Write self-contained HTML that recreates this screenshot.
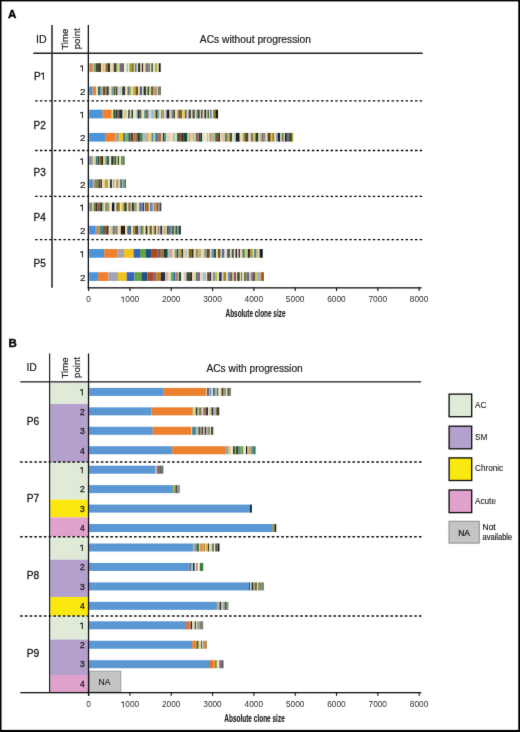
<!DOCTYPE html>
<html><head><meta charset="utf-8"><title>Clone size</title>
<style>html,body{margin:0;padding:0;background:#fff;}svg{display:block;}</style></head>
<body><svg width="520" height="732" viewBox="0 0 520 732">
<defs><filter id="soft" x="0" y="0" width="520" height="732" filterUnits="userSpaceOnUse" color-interpolation-filters="sRGB"><feConvolveMatrix order="3" kernelMatrix="0.0064 0.0672 0.0064 0.0672 0.7056 0.0672 0.0064 0.0672 0.0064" edgeMode="duplicate"/></filter></defs><g filter="url(#soft)">
<rect x="0" y="0" width="520" height="732" fill="#fff"/>
<text x="7.9" y="18.2" font-family="Liberation Sans" font-weight="700" font-size="11.5" stroke="#000" stroke-width="0.35">A</text>
<text x="41.3" y="42.5" text-anchor="middle" font-family="Liberation Sans" font-size="10.6" fill="#222" stroke="#222" stroke-width="0.2">ID</text>
<text transform="translate(68.2,39.2) rotate(-90)" text-anchor="middle" font-family="Liberation Sans" font-size="9.7" fill="#222" stroke="#222" stroke-width="0.2">Time</text>
<text transform="translate(80.0,38.8) rotate(-90)" text-anchor="middle" font-family="Liberation Sans" font-size="9.7" fill="#222" stroke="#222" stroke-width="0.2">point</text>
<text x="255.4" y="42.5" text-anchor="middle" font-family="Liberation Sans" font-size="10.25" fill="#222" stroke="#222" stroke-width="0.2">ACs without progression</text>
<rect x="33.3" y="52.5" width="389.4" height="1.5" fill="#1e1e1e"/>
<rect x="51.2" y="25" width="1.6" height="262.8" fill="#333"/>
<line x1="35.2" y1="100.9" x2="422.2" y2="100.9" stroke="#000" stroke-width="1.4" stroke-dasharray="2.4 2.289"/>
<line x1="35.2" y1="150.5" x2="422.2" y2="150.5" stroke="#000" stroke-width="1.4" stroke-dasharray="2.4 2.289"/>
<line x1="35.2" y1="196.35" x2="422.2" y2="196.35" stroke="#000" stroke-width="1.4" stroke-dasharray="2.4 2.289"/>
<line x1="35.2" y1="239.6" x2="422.2" y2="239.6" stroke="#000" stroke-width="1.4" stroke-dasharray="2.4 2.289"/>
<rect x="89.20" y="63.25" width="3.75" height="8.7" fill="#c88a60"/>
<rect x="92.90" y="63.25" width="1.08" height="8.7" fill="#e0c090"/>
<rect x="93.93" y="63.25" width="2.10" height="8.7" fill="#70a870"/>
<rect x="95.98" y="63.25" width="2.10" height="8.7" fill="#404a40"/>
<rect x="98.04" y="63.25" width="3.13" height="8.7" fill="#4a4020"/>
<rect x="101.12" y="63.25" width="1.49" height="8.7" fill="#e8e0b8"/>
<rect x="102.56" y="63.25" width="2.31" height="8.7" fill="#e0b878"/>
<rect x="104.82" y="63.25" width="0.77" height="8.7" fill="#f0ecd0"/>
<rect x="105.53" y="63.25" width="2.31" height="8.7" fill="#8a6a3a"/>
<rect x="107.79" y="63.25" width="2.21" height="8.7" fill="#283020"/>
<rect x="109.95" y="63.25" width="3.85" height="8.7" fill="#e0dcb0"/>
<rect x="113.75" y="63.25" width="2.21" height="8.7" fill="#503020"/>
<rect x="115.91" y="63.25" width="1.08" height="8.7" fill="#60a060"/>
<rect x="116.94" y="63.25" width="2.72" height="8.7" fill="#d8cc90"/>
<rect x="119.61" y="63.25" width="4.57" height="8.7" fill="#706878"/>
<rect x="124.13" y="63.25" width="2.52" height="8.7" fill="#f0f0d0"/>
<rect x="126.60" y="63.25" width="1.49" height="8.7" fill="#a0b8d8"/>
<rect x="128.03" y="63.25" width="1.28" height="8.7" fill="#f0f0d0"/>
<rect x="129.27" y="63.25" width="3.03" height="8.7" fill="#a8a030"/>
<rect x="132.25" y="63.25" width="1.49" height="8.7" fill="#5a5010"/>
<rect x="133.68" y="63.25" width="1.59" height="8.7" fill="#d0d080"/>
<rect x="135.22" y="63.25" width="1.49" height="8.7" fill="#4858a8"/>
<rect x="136.66" y="63.25" width="1.49" height="8.7" fill="#e6dfbc"/>
<rect x="138.10" y="63.25" width="2.31" height="8.7" fill="#203020"/>
<rect x="140.36" y="63.25" width="1.49" height="8.7" fill="#e6dfbc"/>
<rect x="141.80" y="63.25" width="1.59" height="8.7" fill="#402020"/>
<rect x="143.34" y="63.25" width="2.21" height="8.7" fill="#e6dfbc"/>
<rect x="145.50" y="63.25" width="1.49" height="8.7" fill="#707860"/>
<rect x="146.94" y="63.25" width="1.59" height="8.7" fill="#608080"/>
<rect x="148.48" y="63.25" width="1.49" height="8.7" fill="#806878"/>
<rect x="149.92" y="63.25" width="1.49" height="8.7" fill="#e6dfbc"/>
<rect x="151.35" y="63.25" width="1.59" height="8.7" fill="#305040"/>
<rect x="152.89" y="63.25" width="2.21" height="8.7" fill="#e6dfbc"/>
<rect x="155.05" y="63.25" width="2.31" height="8.7" fill="#a0b050"/>
<rect x="157.31" y="63.25" width="1.49" height="8.7" fill="#e6dfbc"/>
<rect x="158.75" y="63.25" width="1.90" height="8.7" fill="#201810"/>
<path d="M82.90 65.30 L82.90 71.60 L81.95 71.60 L81.95 66.85 C81.35 66.80 80.45 66.95 80.05 67.00 L80.05 66.10 C80.95 66.00 81.65 65.80 82.00 65.30 Z" fill="#1a1a1a"/>
<rect x="89.20" y="86.47" width="3.45" height="8.7" fill="#4b94d8"/>
<rect x="92.60" y="86.47" width="3.55" height="8.7" fill="#f07f2e"/>
<rect x="96.10" y="86.47" width="1.95" height="8.7" fill="#e8e0c0"/>
<rect x="98.00" y="86.47" width="2.35" height="8.7" fill="#306860"/>
<rect x="100.30" y="86.47" width="1.55" height="8.7" fill="#50a0a0"/>
<rect x="101.80" y="86.47" width="0.85" height="8.7" fill="#e6dfbc"/>
<rect x="102.60" y="86.47" width="2.75" height="8.7" fill="#804830"/>
<rect x="105.30" y="86.47" width="1.25" height="8.7" fill="#a07050"/>
<rect x="106.50" y="86.47" width="2.35" height="8.7" fill="#204830"/>
<rect x="108.80" y="86.47" width="1.55" height="8.7" fill="#e6dfbc"/>
<rect x="110.30" y="86.47" width="1.55" height="8.7" fill="#e0c0a0"/>
<rect x="111.80" y="86.47" width="2.05" height="8.7" fill="#70a098"/>
<rect x="113.80" y="86.47" width="1.15" height="8.7" fill="#505030"/>
<rect x="114.90" y="86.47" width="0.85" height="8.7" fill="#c0a060"/>
<rect x="115.70" y="86.47" width="1.95" height="8.7" fill="#304830"/>
<rect x="117.60" y="86.47" width="0.85" height="8.7" fill="#e6dfbc"/>
<rect x="118.40" y="86.47" width="1.15" height="8.7" fill="#d0b8d8"/>
<rect x="119.50" y="86.47" width="2.05" height="8.7" fill="#b0d0b0"/>
<rect x="121.50" y="86.47" width="0.75" height="8.7" fill="#e6dfbc"/>
<rect x="122.20" y="86.47" width="2.75" height="8.7" fill="#303838"/>
<rect x="124.90" y="86.47" width="0.35" height="8.7" fill="#203030"/>
<rect x="125.20" y="86.47" width="2.35" height="8.7" fill="#f0e0a0"/>
<rect x="127.50" y="86.47" width="1.95" height="8.7" fill="#507080"/>
<rect x="129.40" y="86.47" width="1.95" height="8.7" fill="#a0a040"/>
<rect x="131.30" y="86.47" width="1.55" height="8.7" fill="#e6dfbc"/>
<rect x="132.80" y="86.47" width="2.75" height="8.7" fill="#c0b040"/>
<rect x="135.50" y="86.47" width="2.75" height="8.7" fill="#805010"/>
<rect x="138.20" y="86.47" width="1.65" height="8.7" fill="#e6dfbc"/>
<rect x="139.80" y="86.47" width="2.35" height="8.7" fill="#506090"/>
<rect x="142.10" y="86.47" width="1.55" height="8.7" fill="#e6dfbc"/>
<rect x="143.60" y="86.47" width="2.35" height="8.7" fill="#203020"/>
<rect x="145.90" y="86.47" width="1.65" height="8.7" fill="#d0d0b0"/>
<rect x="147.50" y="86.47" width="1.55" height="8.7" fill="#304830"/>
<rect x="149.00" y="86.47" width="2.35" height="8.7" fill="#d0d090"/>
<rect x="151.30" y="86.47" width="1.55" height="8.7" fill="#403010"/>
<rect x="152.80" y="86.47" width="2.75" height="8.7" fill="#c0a070"/>
<rect x="155.50" y="86.47" width="1.25" height="8.7" fill="#806040"/>
<rect x="156.70" y="86.47" width="1.15" height="8.7" fill="#e6dfbc"/>
<rect x="157.80" y="86.47" width="3.25" height="8.7" fill="#808070"/>
<text x="85.5" y="95.02" text-anchor="end" font-family="Liberation Sans" font-size="9.9" fill="#1a1a1a" stroke="#1a1a1a" stroke-width="0.2">2</text>
<rect x="89.20" y="109.69" width="13.45" height="8.7" fill="#4b94d8"/>
<rect x="102.60" y="109.69" width="8.55" height="8.7" fill="#f07f2e"/>
<rect x="111.10" y="109.69" width="1.15" height="8.7" fill="#c0b0a0"/>
<rect x="112.20" y="109.69" width="1.25" height="8.7" fill="#d0e060"/>
<rect x="113.40" y="109.69" width="1.55" height="8.7" fill="#203828"/>
<rect x="114.90" y="109.69" width="0.85" height="8.7" fill="#5080a0"/>
<rect x="115.70" y="109.69" width="1.95" height="8.7" fill="#303048"/>
<rect x="117.60" y="109.69" width="1.65" height="8.7" fill="#806040"/>
<rect x="119.20" y="109.69" width="3.45" height="8.7" fill="#103028"/>
<rect x="122.60" y="109.69" width="1.25" height="8.7" fill="#e6dfbc"/>
<rect x="123.80" y="109.69" width="1.55" height="8.7" fill="#e0c090"/>
<rect x="125.30" y="109.69" width="1.55" height="8.7" fill="#b0c890"/>
<rect x="126.80" y="109.69" width="1.25" height="8.7" fill="#f0f0c0"/>
<rect x="128.00" y="109.69" width="1.95" height="8.7" fill="#506050"/>
<rect x="129.90" y="109.69" width="0.85" height="8.7" fill="#e6dfbc"/>
<rect x="130.70" y="109.69" width="1.15" height="8.7" fill="#a09060"/>
<rect x="131.80" y="109.69" width="1.25" height="8.7" fill="#304030"/>
<rect x="133.00" y="109.69" width="1.55" height="8.7" fill="#e6dfbc"/>
<rect x="134.50" y="109.69" width="1.65" height="8.7" fill="#e0e0b0"/>
<rect x="136.10" y="109.69" width="1.55" height="8.7" fill="#a0c8e0"/>
<rect x="137.60" y="109.69" width="1.95" height="8.7" fill="#202818"/>
<rect x="139.50" y="109.69" width="0.85" height="8.7" fill="#606030"/>
<rect x="140.30" y="109.69" width="1.25" height="8.7" fill="#203020"/>
<rect x="141.50" y="109.69" width="1.15" height="8.7" fill="#e6dfbc"/>
<rect x="142.60" y="109.69" width="1.65" height="8.7" fill="#e8e0a0"/>
<rect x="144.20" y="109.69" width="1.55" height="8.7" fill="#509090"/>
<rect x="145.70" y="109.69" width="0.35" height="8.7" fill="#404040"/>
<rect x="146.00" y="109.69" width="1.95" height="8.7" fill="#707050"/>
<rect x="147.90" y="109.69" width="1.25" height="8.7" fill="#b0a0c0"/>
<rect x="149.10" y="109.69" width="1.15" height="8.7" fill="#e6dfbc"/>
<rect x="150.20" y="109.69" width="2.05" height="8.7" fill="#a0d0d0"/>
<rect x="152.20" y="109.69" width="1.55" height="8.7" fill="#80a0c0"/>
<rect x="153.70" y="109.69" width="0.85" height="8.7" fill="#e6dfbc"/>
<rect x="154.50" y="109.69" width="1.55" height="8.7" fill="#a0a030"/>
<rect x="156.00" y="109.69" width="1.25" height="8.7" fill="#303020"/>
<rect x="157.20" y="109.69" width="1.55" height="8.7" fill="#408080"/>
<rect x="158.70" y="109.69" width="1.15" height="8.7" fill="#a0d0c0"/>
<rect x="159.80" y="109.69" width="1.25" height="8.7" fill="#e6dfbc"/>
<rect x="161.00" y="109.69" width="1.55" height="8.7" fill="#809070"/>
<rect x="162.50" y="109.69" width="1.65" height="8.7" fill="#a09050"/>
<rect x="164.10" y="109.69" width="1.55" height="8.7" fill="#e6dfbc"/>
<rect x="165.60" y="109.69" width="1.25" height="8.7" fill="#90a0e0"/>
<rect x="166.80" y="109.69" width="2.75" height="8.7" fill="#302010"/>
<rect x="169.50" y="109.69" width="1.15" height="8.7" fill="#e0b0a0"/>
<rect x="170.60" y="109.69" width="0.85" height="8.7" fill="#e6dfbc"/>
<rect x="171.40" y="109.69" width="1.95" height="8.7" fill="#6080a0"/>
<rect x="173.30" y="109.69" width="1.95" height="8.7" fill="#505020"/>
<rect x="175.20" y="109.69" width="2.05" height="8.7" fill="#e6dfbc"/>
<rect x="177.20" y="109.69" width="1.15" height="8.7" fill="#c0a070"/>
<rect x="178.30" y="109.69" width="3.95" height="8.7" fill="#806020"/>
<rect x="182.20" y="109.69" width="0.75" height="8.7" fill="#e6dfbc"/>
<rect x="182.90" y="109.69" width="2.35" height="8.7" fill="#e0d040"/>
<rect x="185.20" y="109.69" width="1.15" height="8.7" fill="#303020"/>
<rect x="186.30" y="109.69" width="1.25" height="8.7" fill="#a090d0"/>
<rect x="187.50" y="109.69" width="1.15" height="8.7" fill="#e6dfbc"/>
<rect x="188.60" y="109.69" width="2.35" height="8.7" fill="#404030"/>
<rect x="190.90" y="109.69" width="1.65" height="8.7" fill="#e6dfbc"/>
<rect x="192.50" y="109.69" width="2.35" height="8.7" fill="#504030"/>
<rect x="194.80" y="109.69" width="1.15" height="8.7" fill="#e6dfbc"/>
<rect x="195.90" y="109.69" width="1.65" height="8.7" fill="#90b0a0"/>
<rect x="197.50" y="109.69" width="2.35" height="8.7" fill="#304838"/>
<rect x="199.80" y="109.69" width="1.15" height="8.7" fill="#e6dfbc"/>
<rect x="200.90" y="109.69" width="1.95" height="8.7" fill="#605060"/>
<rect x="202.80" y="109.69" width="1.65" height="8.7" fill="#e6dfbc"/>
<rect x="204.40" y="109.69" width="1.95" height="8.7" fill="#203020"/>
<rect x="206.30" y="109.69" width="1.25" height="8.7" fill="#c0d8b0"/>
<rect x="207.50" y="109.69" width="1.55" height="8.7" fill="#406830"/>
<rect x="209.00" y="109.69" width="1.25" height="8.7" fill="#e6dfbc"/>
<rect x="210.20" y="109.69" width="1.55" height="8.7" fill="#5060a0"/>
<rect x="211.70" y="109.69" width="1.55" height="8.7" fill="#e6dfbc"/>
<rect x="213.20" y="109.69" width="2.35" height="8.7" fill="#808020"/>
<rect x="215.50" y="109.69" width="2.55" height="8.7" fill="#201808"/>
<path d="M82.90 111.74 L82.90 118.04 L81.95 118.04 L81.95 113.29 C81.35 113.24 80.45 113.39 80.05 113.44 L80.05 112.54 C80.95 112.44 81.65 112.24 82.00 111.74 Z" fill="#1a1a1a"/>
<rect x="89.20" y="132.91" width="16.55" height="8.7" fill="#4b94d8"/>
<rect x="105.70" y="132.91" width="9.65" height="8.7" fill="#f07f2e"/>
<rect x="115.30" y="132.91" width="4.05" height="8.7" fill="#a0a890"/>
<rect x="119.30" y="132.91" width="3.95" height="8.7" fill="#f0c020"/>
<rect x="123.20" y="132.91" width="2.05" height="8.7" fill="#3070b0"/>
<rect x="125.20" y="132.91" width="3.15" height="8.7" fill="#80b050"/>
<rect x="128.30" y="132.91" width="2.35" height="8.7" fill="#306070"/>
<rect x="130.60" y="132.91" width="2.95" height="8.7" fill="#704020"/>
<rect x="133.50" y="132.91" width="2.35" height="8.7" fill="#c07030"/>
<rect x="135.80" y="132.91" width="1.75" height="8.7" fill="#807060"/>
<rect x="137.50" y="132.91" width="2.35" height="8.7" fill="#203020"/>
<rect x="139.80" y="132.91" width="2.95" height="8.7" fill="#508060"/>
<rect x="142.70" y="132.91" width="2.95" height="8.7" fill="#a0c0b0"/>
<rect x="145.60" y="132.91" width="2.95" height="8.7" fill="#d0a0a0"/>
<rect x="148.50" y="132.91" width="3.05" height="8.7" fill="#e0d070"/>
<rect x="151.50" y="132.91" width="2.05" height="8.7" fill="#6080a0"/>
<rect x="153.50" y="132.91" width="1.95" height="8.7" fill="#a0d0a0"/>
<rect x="155.40" y="132.91" width="2.35" height="8.7" fill="#3070a0"/>
<rect x="157.70" y="132.91" width="3.85" height="8.7" fill="#b07050"/>
<rect x="161.50" y="132.91" width="1.25" height="8.7" fill="#e6dfbc"/>
<rect x="162.70" y="132.91" width="1.95" height="8.7" fill="#205030"/>
<rect x="164.60" y="132.91" width="1.65" height="8.7" fill="#50a080"/>
<rect x="166.20" y="132.91" width="3.85" height="8.7" fill="#e0d0c8"/>
<rect x="170.00" y="132.91" width="3.15" height="8.7" fill="#f0e0b0"/>
<rect x="173.10" y="132.91" width="1.55" height="8.7" fill="#90b0b0"/>
<rect x="174.60" y="132.91" width="2.75" height="8.7" fill="#c0e0c0"/>
<rect x="177.30" y="132.91" width="1.55" height="8.7" fill="#203028"/>
<rect x="178.80" y="132.91" width="3.15" height="8.7" fill="#805030"/>
<rect x="181.90" y="132.91" width="1.65" height="8.7" fill="#302020"/>
<rect x="183.50" y="132.91" width="4.05" height="8.7" fill="#104838"/>
<rect x="187.50" y="132.91" width="0.85" height="8.7" fill="#e6dfbc"/>
<rect x="188.30" y="132.91" width="2.35" height="8.7" fill="#d0a878"/>
<rect x="190.60" y="132.91" width="2.35" height="8.7" fill="#e0c8a0"/>
<rect x="192.90" y="132.91" width="1.95" height="8.7" fill="#a0d090"/>
<rect x="194.80" y="132.91" width="0.85" height="8.7" fill="#e6dfbc"/>
<rect x="195.60" y="132.91" width="3.15" height="8.7" fill="#a06050"/>
<rect x="198.70" y="132.91" width="1.55" height="8.7" fill="#205040"/>
<rect x="200.20" y="132.91" width="2.05" height="8.7" fill="#104040"/>
<rect x="202.20" y="132.91" width="1.95" height="8.7" fill="#e6dfbc"/>
<rect x="204.10" y="132.91" width="2.75" height="8.7" fill="#f0e8c8"/>
<rect x="206.80" y="132.91" width="1.55" height="8.7" fill="#b0d0b0"/>
<rect x="208.30" y="132.91" width="1.25" height="8.7" fill="#e6dfbc"/>
<rect x="209.50" y="132.91" width="2.35" height="8.7" fill="#c09070"/>
<rect x="211.80" y="132.91" width="0.75" height="8.7" fill="#e6dfbc"/>
<rect x="212.50" y="132.91" width="1.25" height="8.7" fill="#708870"/>
<rect x="213.70" y="132.91" width="1.55" height="8.7" fill="#a0d0a0"/>
<rect x="215.20" y="132.91" width="3.15" height="8.7" fill="#805030"/>
<rect x="218.30" y="132.91" width="1.95" height="8.7" fill="#303020"/>
<rect x="220.20" y="132.91" width="1.65" height="8.7" fill="#e6dfbc"/>
<rect x="221.80" y="132.91" width="2.15" height="8.7" fill="#e0b8a0"/>
<rect x="223.90" y="132.91" width="0.85" height="8.7" fill="#e6dfbc"/>
<rect x="224.70" y="132.91" width="2.35" height="8.7" fill="#708060"/>
<rect x="227.00" y="132.91" width="2.75" height="8.7" fill="#c0b040"/>
<rect x="229.70" y="132.91" width="2.35" height="8.7" fill="#405050"/>
<rect x="232.00" y="132.91" width="1.55" height="8.7" fill="#e6dfbc"/>
<rect x="233.50" y="132.91" width="2.35" height="8.7" fill="#b0e0c0"/>
<rect x="235.80" y="132.91" width="3.95" height="8.7" fill="#202020"/>
<rect x="239.70" y="132.91" width="1.95" height="8.7" fill="#e6dfbc"/>
<rect x="241.60" y="132.91" width="1.65" height="8.7" fill="#e0d0a0"/>
<rect x="243.20" y="132.91" width="1.95" height="8.7" fill="#a09040"/>
<rect x="245.10" y="132.91" width="3.45" height="8.7" fill="#504830"/>
<rect x="248.50" y="132.91" width="2.35" height="8.7" fill="#e6dfbc"/>
<rect x="250.80" y="132.91" width="2.45" height="8.7" fill="#807870"/>
<rect x="253.20" y="132.91" width="2.35" height="8.7" fill="#d0c060"/>
<rect x="255.50" y="132.91" width="3.05" height="8.7" fill="#204030"/>
<rect x="258.50" y="132.91" width="1.25" height="8.7" fill="#e6dfbc"/>
<rect x="259.70" y="132.91" width="1.85" height="8.7" fill="#d0a880"/>
<rect x="261.50" y="132.91" width="2.35" height="8.7" fill="#807080"/>
<rect x="263.80" y="132.91" width="1.95" height="8.7" fill="#909090"/>
<rect x="265.70" y="132.91" width="1.95" height="8.7" fill="#e6dfbc"/>
<rect x="267.60" y="132.91" width="3.15" height="8.7" fill="#604010"/>
<rect x="270.70" y="132.91" width="1.55" height="8.7" fill="#e0c040"/>
<rect x="272.20" y="132.91" width="2.35" height="8.7" fill="#a08020"/>
<rect x="274.50" y="132.91" width="1.65" height="8.7" fill="#e6dfbc"/>
<rect x="276.10" y="132.91" width="1.95" height="8.7" fill="#8098a8"/>
<rect x="278.00" y="132.91" width="2.35" height="8.7" fill="#202030"/>
<rect x="280.30" y="132.91" width="1.25" height="8.7" fill="#e6dfbc"/>
<rect x="281.50" y="132.91" width="2.35" height="8.7" fill="#708060"/>
<rect x="283.80" y="132.91" width="1.15" height="8.7" fill="#e6dfbc"/>
<rect x="284.90" y="132.91" width="1.95" height="8.7" fill="#202030"/>
<rect x="286.80" y="132.91" width="2.45" height="8.7" fill="#607080"/>
<rect x="289.20" y="132.91" width="2.65" height="8.7" fill="#404010"/>
<rect x="291.80" y="132.91" width="1.35" height="8.7" fill="#a0a030"/>
<text x="85.5" y="141.46" text-anchor="end" font-family="Liberation Sans" font-size="9.9" fill="#1a1a1a" stroke="#1a1a1a" stroke-width="0.2">2</text>
<rect x="89.20" y="156.13" width="2.69" height="8.7" fill="#7090b0"/>
<rect x="91.84" y="156.13" width="1.37" height="8.7" fill="#c0a880"/>
<rect x="93.17" y="156.13" width="2.69" height="8.7" fill="#d8d0b0"/>
<rect x="95.81" y="156.13" width="1.78" height="8.7" fill="#407870"/>
<rect x="97.54" y="156.13" width="1.78" height="8.7" fill="#305050"/>
<rect x="99.27" y="156.13" width="1.88" height="8.7" fill="#807030"/>
<rect x="101.10" y="156.13" width="2.19" height="8.7" fill="#402818"/>
<rect x="103.24" y="156.13" width="2.29" height="8.7" fill="#d0d890"/>
<rect x="105.47" y="156.13" width="1.37" height="8.7" fill="#608880"/>
<rect x="106.80" y="156.13" width="2.29" height="8.7" fill="#406060"/>
<rect x="109.03" y="156.13" width="2.29" height="8.7" fill="#e0e0c0"/>
<rect x="111.27" y="156.13" width="1.78" height="8.7" fill="#203020"/>
<rect x="113.00" y="156.13" width="1.37" height="8.7" fill="#708070"/>
<rect x="114.32" y="156.13" width="1.78" height="8.7" fill="#405030"/>
<rect x="116.05" y="156.13" width="1.78" height="8.7" fill="#c0d070"/>
<rect x="117.78" y="156.13" width="1.37" height="8.7" fill="#304030"/>
<rect x="119.10" y="156.13" width="2.29" height="8.7" fill="#e6dfbc"/>
<rect x="121.34" y="156.13" width="1.37" height="8.7" fill="#506030"/>
<rect x="122.66" y="156.13" width="2.19" height="8.7" fill="#708868"/>
<path d="M82.90 158.18 L82.90 164.48 L81.95 164.48 L81.95 159.73 C81.35 159.68 80.45 159.83 80.05 159.88 L80.05 158.98 C80.95 158.88 81.65 158.68 82.00 158.18 Z" fill="#1a1a1a"/>
<rect x="89.20" y="179.35" width="3.65" height="8.7" fill="#4a90d0"/>
<rect x="92.80" y="179.35" width="2.21" height="8.7" fill="#c0a080"/>
<rect x="94.96" y="179.35" width="3.24" height="8.7" fill="#709060"/>
<rect x="98.14" y="179.35" width="2.21" height="8.7" fill="#705020"/>
<rect x="100.30" y="179.35" width="1.80" height="8.7" fill="#4a4020"/>
<rect x="102.05" y="179.35" width="2.72" height="8.7" fill="#e6dfbc"/>
<rect x="104.72" y="179.35" width="3.24" height="8.7" fill="#c0a030"/>
<rect x="107.91" y="179.35" width="2.21" height="8.7" fill="#e6dfbc"/>
<rect x="110.07" y="179.35" width="1.90" height="8.7" fill="#203040"/>
<rect x="111.92" y="179.35" width="1.39" height="8.7" fill="#e6dfbc"/>
<rect x="113.25" y="179.35" width="1.39" height="8.7" fill="#a0a060"/>
<rect x="114.59" y="179.35" width="1.80" height="8.7" fill="#e6dfbc"/>
<rect x="116.34" y="179.35" width="2.21" height="8.7" fill="#c08040"/>
<rect x="118.50" y="179.35" width="1.39" height="8.7" fill="#e6dfbc"/>
<rect x="119.83" y="179.35" width="2.72" height="8.7" fill="#5080a0"/>
<rect x="122.51" y="179.35" width="1.80" height="8.7" fill="#c09060"/>
<rect x="124.25" y="179.35" width="1.80" height="8.7" fill="#408060"/>
<text x="85.5" y="187.90" text-anchor="end" font-family="Liberation Sans" font-size="9.9" fill="#1a1a1a" stroke="#1a1a1a" stroke-width="0.2">2</text>
<rect x="89.20" y="202.57" width="3.05" height="8.7" fill="#8a8a90"/>
<rect x="92.20" y="202.57" width="1.75" height="8.7" fill="#e0c060"/>
<rect x="93.90" y="202.57" width="1.75" height="8.7" fill="#607850"/>
<rect x="95.60" y="202.57" width="1.75" height="8.7" fill="#303020"/>
<rect x="97.30" y="202.57" width="3.05" height="8.7" fill="#a05040"/>
<rect x="100.30" y="202.57" width="2.25" height="8.7" fill="#203020"/>
<rect x="102.50" y="202.57" width="1.75" height="8.7" fill="#a0d0a0"/>
<rect x="104.20" y="202.57" width="0.95" height="8.7" fill="#e6dfbc"/>
<rect x="105.10" y="202.57" width="2.65" height="8.7" fill="#a08060"/>
<rect x="107.70" y="202.57" width="1.75" height="8.7" fill="#909060"/>
<rect x="109.40" y="202.57" width="2.65" height="8.7" fill="#e6dfbc"/>
<rect x="112.00" y="202.57" width="2.65" height="8.7" fill="#102040"/>
<rect x="114.60" y="202.57" width="1.75" height="8.7" fill="#e6dfbc"/>
<rect x="116.30" y="202.57" width="3.55" height="8.7" fill="#907010"/>
<rect x="119.80" y="202.57" width="2.25" height="8.7" fill="#e6dfbc"/>
<rect x="122.00" y="202.57" width="2.25" height="8.7" fill="#c0b040"/>
<rect x="124.20" y="202.57" width="2.65" height="8.7" fill="#404020"/>
<rect x="126.80" y="202.57" width="1.65" height="8.7" fill="#e6dfbc"/>
<rect x="128.40" y="202.57" width="2.35" height="8.7" fill="#806030"/>
<rect x="130.70" y="202.57" width="1.15" height="8.7" fill="#e6dfbc"/>
<rect x="131.80" y="202.57" width="2.05" height="8.7" fill="#203020"/>
<rect x="133.80" y="202.57" width="3.05" height="8.7" fill="#90a080"/>
<rect x="136.80" y="202.57" width="1.65" height="8.7" fill="#e6dfbc"/>
<rect x="138.40" y="202.57" width="1.15" height="8.7" fill="#d0c8a0"/>
<rect x="139.50" y="202.57" width="1.25" height="8.7" fill="#303850"/>
<rect x="140.70" y="202.57" width="2.35" height="8.7" fill="#7080c0"/>
<rect x="143.00" y="202.57" width="1.25" height="8.7" fill="#304040"/>
<rect x="144.20" y="202.57" width="0.75" height="8.7" fill="#e6dfbc"/>
<rect x="144.90" y="202.57" width="1.95" height="8.7" fill="#806030"/>
<rect x="146.80" y="202.57" width="2.05" height="8.7" fill="#a06820"/>
<rect x="148.80" y="202.57" width="1.15" height="8.7" fill="#e6dfbc"/>
<rect x="149.90" y="202.57" width="2.75" height="8.7" fill="#6088b0"/>
<rect x="152.60" y="202.57" width="1.25" height="8.7" fill="#90b0d0"/>
<rect x="153.80" y="202.57" width="2.75" height="8.7" fill="#d08850"/>
<rect x="156.50" y="202.57" width="1.55" height="8.7" fill="#805040"/>
<rect x="158.00" y="202.57" width="1.55" height="8.7" fill="#a0a090"/>
<rect x="159.50" y="202.57" width="1.85" height="8.7" fill="#404840"/>
<path d="M82.90 204.62 L82.90 210.92 L81.95 210.92 L81.95 206.17 C81.35 206.12 80.45 206.27 80.05 206.32 L80.05 205.42 C80.95 205.32 81.65 205.12 82.00 204.62 Z" fill="#1a1a1a"/>
<rect x="89.20" y="225.79" width="6.55" height="8.7" fill="#4a90e0"/>
<rect x="95.70" y="225.79" width="3.95" height="8.7" fill="#c09060"/>
<rect x="99.60" y="225.79" width="3.45" height="8.7" fill="#408890"/>
<rect x="103.00" y="225.79" width="3.55" height="8.7" fill="#905030"/>
<rect x="106.50" y="225.79" width="2.25" height="8.7" fill="#303020"/>
<rect x="108.70" y="225.79" width="1.75" height="8.7" fill="#e6dfbc"/>
<rect x="110.40" y="225.79" width="2.25" height="8.7" fill="#e0c080"/>
<rect x="112.60" y="225.79" width="3.05" height="8.7" fill="#608888"/>
<rect x="115.60" y="225.79" width="2.25" height="8.7" fill="#a08060"/>
<rect x="117.80" y="225.79" width="3.05" height="8.7" fill="#e6dfbc"/>
<rect x="120.80" y="225.79" width="4.35" height="8.7" fill="#302010"/>
<rect x="125.10" y="225.79" width="2.25" height="8.7" fill="#e6dfbc"/>
<rect x="127.30" y="225.79" width="3.05" height="8.7" fill="#407890"/>
<rect x="130.30" y="225.79" width="0.85" height="8.7" fill="#203030"/>
<rect x="131.10" y="225.79" width="1.95" height="8.7" fill="#e6dfbc"/>
<rect x="133.00" y="225.79" width="1.55" height="8.7" fill="#a09040"/>
<rect x="134.50" y="225.79" width="1.65" height="8.7" fill="#806010"/>
<rect x="136.10" y="225.79" width="2.35" height="8.7" fill="#603810"/>
<rect x="138.40" y="225.79" width="2.35" height="8.7" fill="#a0c0f0"/>
<rect x="140.70" y="225.79" width="1.15" height="8.7" fill="#305050"/>
<rect x="141.80" y="225.79" width="2.05" height="8.7" fill="#90a040"/>
<rect x="143.80" y="225.79" width="1.95" height="8.7" fill="#e6dfbc"/>
<rect x="145.70" y="225.79" width="1.95" height="8.7" fill="#302020"/>
<rect x="147.60" y="225.79" width="1.95" height="8.7" fill="#e8e8a0"/>
<rect x="149.50" y="225.79" width="2.45" height="8.7" fill="#606830"/>
<rect x="151.90" y="225.79" width="1.25" height="8.7" fill="#e6dfbc"/>
<rect x="153.10" y="225.79" width="1.55" height="8.7" fill="#c0a060"/>
<rect x="154.60" y="225.79" width="1.65" height="8.7" fill="#504018"/>
<rect x="156.20" y="225.79" width="1.55" height="8.7" fill="#e6dfbc"/>
<rect x="157.70" y="225.79" width="1.15" height="8.7" fill="#806040"/>
<rect x="158.80" y="225.79" width="1.65" height="8.7" fill="#c0b0d0"/>
<rect x="160.40" y="225.79" width="1.95" height="8.7" fill="#202038"/>
<rect x="162.30" y="225.79" width="1.25" height="8.7" fill="#e6dfbc"/>
<rect x="163.50" y="225.79" width="2.35" height="8.7" fill="#c0b060"/>
<rect x="165.80" y="225.79" width="1.15" height="8.7" fill="#e6dfbc"/>
<rect x="166.90" y="225.79" width="1.95" height="8.7" fill="#404878"/>
<rect x="168.80" y="225.79" width="2.05" height="8.7" fill="#508080"/>
<rect x="170.80" y="225.79" width="1.55" height="8.7" fill="#a09080"/>
<rect x="172.30" y="225.79" width="1.55" height="8.7" fill="#303030"/>
<rect x="173.80" y="225.79" width="1.65" height="8.7" fill="#a0c890"/>
<rect x="175.40" y="225.79" width="2.35" height="8.7" fill="#306040"/>
<rect x="177.70" y="225.79" width="0.85" height="8.7" fill="#e6dfbc"/>
<rect x="178.50" y="225.79" width="2.35" height="8.7" fill="#203040"/>
<text x="85.5" y="234.34" text-anchor="end" font-family="Liberation Sans" font-size="9.9" fill="#1a1a1a" stroke="#1a1a1a" stroke-width="0.2">2</text>
<rect x="89.20" y="249.01" width="15.05" height="8.7" fill="#4b94d8"/>
<rect x="104.20" y="249.01" width="12.95" height="8.7" fill="#f07f2e"/>
<rect x="117.10" y="249.01" width="6.95" height="8.7" fill="#a3a3b3"/>
<rect x="124.00" y="249.01" width="9.65" height="8.7" fill="#f2c21e"/>
<rect x="133.60" y="249.01" width="6.45" height="8.7" fill="#3664be"/>
<rect x="140.00" y="249.01" width="5.75" height="8.7" fill="#62a446"/>
<rect x="145.70" y="249.01" width="6.05" height="8.7" fill="#24527e"/>
<rect x="151.70" y="249.01" width="6.05" height="8.7" fill="#b04820"/>
<rect x="157.70" y="249.01" width="2.35" height="8.7" fill="#706070"/>
<rect x="160.00" y="249.01" width="3.85" height="8.7" fill="#a07040"/>
<rect x="163.80" y="249.01" width="3.95" height="8.7" fill="#204030"/>
<rect x="167.70" y="249.01" width="2.35" height="8.7" fill="#90c0d8"/>
<rect x="170.00" y="249.01" width="2.75" height="8.7" fill="#e0a080"/>
<rect x="172.70" y="249.01" width="1.95" height="8.7" fill="#f0e0a0"/>
<rect x="174.60" y="249.01" width="1.95" height="8.7" fill="#70a090"/>
<rect x="176.50" y="249.01" width="2.05" height="8.7" fill="#404848"/>
<rect x="178.50" y="249.01" width="3.05" height="8.7" fill="#c0a040"/>
<rect x="181.50" y="249.01" width="1.65" height="8.7" fill="#203030"/>
<rect x="183.10" y="249.01" width="2.75" height="8.7" fill="#e0c8a0"/>
<rect x="185.80" y="249.01" width="1.75" height="8.7" fill="#a0d0c0"/>
<rect x="187.50" y="249.01" width="1.25" height="8.7" fill="#e6dfbc"/>
<rect x="188.70" y="249.01" width="3.15" height="8.7" fill="#806020"/>
<rect x="191.80" y="249.01" width="1.95" height="8.7" fill="#303020"/>
<rect x="193.70" y="249.01" width="1.95" height="8.7" fill="#e6dfbc"/>
<rect x="195.60" y="249.01" width="2.75" height="8.7" fill="#a09050"/>
<rect x="198.30" y="249.01" width="2.75" height="8.7" fill="#c0b080"/>
<rect x="201.00" y="249.01" width="3.15" height="8.7" fill="#e0d8b0"/>
<rect x="204.10" y="249.01" width="2.75" height="8.7" fill="#909880"/>
<rect x="206.80" y="249.01" width="3.05" height="8.7" fill="#604030"/>
<rect x="209.80" y="249.01" width="1.65" height="8.7" fill="#e6dfbc"/>
<rect x="211.40" y="249.01" width="2.35" height="8.7" fill="#6090b0"/>
<rect x="213.70" y="249.01" width="2.35" height="8.7" fill="#305050"/>
<rect x="216.00" y="249.01" width="1.95" height="8.7" fill="#e6dfbc"/>
<rect x="217.90" y="249.01" width="2.75" height="8.7" fill="#805010"/>
<rect x="220.60" y="249.01" width="1.25" height="8.7" fill="#e6dfbc"/>
<rect x="221.80" y="249.01" width="2.75" height="8.7" fill="#5070a0"/>
<rect x="224.50" y="249.01" width="2.65" height="8.7" fill="#e6dfbc"/>
<rect x="227.10" y="249.01" width="2.95" height="8.7" fill="#506070"/>
<rect x="230.00" y="249.01" width="1.75" height="8.7" fill="#e6dfbc"/>
<rect x="231.70" y="249.01" width="2.15" height="8.7" fill="#405040"/>
<rect x="233.80" y="249.01" width="1.75" height="8.7" fill="#e6dfbc"/>
<rect x="235.50" y="249.01" width="1.75" height="8.7" fill="#302020"/>
<rect x="237.20" y="249.01" width="1.35" height="8.7" fill="#e6dfbc"/>
<rect x="238.50" y="249.01" width="1.75" height="8.7" fill="#503050"/>
<rect x="240.20" y="249.01" width="2.15" height="8.7" fill="#e6dfbc"/>
<rect x="242.30" y="249.01" width="2.55" height="8.7" fill="#608040"/>
<rect x="244.80" y="249.01" width="3.05" height="8.7" fill="#c0d0a0"/>
<rect x="247.80" y="249.01" width="2.15" height="8.7" fill="#402020"/>
<rect x="249.90" y="249.01" width="3.05" height="8.7" fill="#b0a040"/>
<rect x="252.90" y="249.01" width="1.25" height="8.7" fill="#e6dfbc"/>
<rect x="254.10" y="249.01" width="2.25" height="8.7" fill="#5080a0"/>
<rect x="256.30" y="249.01" width="2.15" height="8.7" fill="#d0b060"/>
<rect x="258.40" y="249.01" width="1.25" height="8.7" fill="#e6dfbc"/>
<rect x="259.60" y="249.01" width="3.15" height="8.7" fill="#102020"/>
<path d="M82.90 251.06 L82.90 257.36 L81.95 257.36 L81.95 252.61 C81.35 252.56 80.45 252.71 80.05 252.76 L80.05 251.86 C80.95 251.76 81.65 251.56 82.00 251.06 Z" fill="#1a1a1a"/>
<rect x="89.20" y="272.23" width="8.95" height="8.7" fill="#4b94d8"/>
<rect x="98.10" y="272.23" width="10.45" height="8.7" fill="#f07f2e"/>
<rect x="108.50" y="272.23" width="9.55" height="8.7" fill="#a3a3b3"/>
<rect x="118.00" y="272.23" width="8.75" height="8.7" fill="#f2c21e"/>
<rect x="126.70" y="272.23" width="7.75" height="8.7" fill="#3664be"/>
<rect x="134.40" y="272.23" width="7.05" height="8.7" fill="#62a446"/>
<rect x="141.40" y="272.23" width="6.05" height="8.7" fill="#24527e"/>
<rect x="147.40" y="272.23" width="6.45" height="8.7" fill="#b04830"/>
<rect x="153.80" y="272.23" width="2.45" height="8.7" fill="#807080"/>
<rect x="156.20" y="272.23" width="4.65" height="8.7" fill="#c08020"/>
<rect x="160.80" y="272.23" width="4.25" height="8.7" fill="#203040"/>
<rect x="165.00" y="272.23" width="1.25" height="8.7" fill="#a0d0e0"/>
<rect x="166.20" y="272.23" width="2.35" height="8.7" fill="#e0a890"/>
<rect x="168.50" y="272.23" width="2.35" height="8.7" fill="#e6dfbc"/>
<rect x="170.80" y="272.23" width="2.35" height="8.7" fill="#60b070"/>
<rect x="173.10" y="272.23" width="2.35" height="8.7" fill="#4070b0"/>
<rect x="175.40" y="272.23" width="2.75" height="8.7" fill="#b08060"/>
<rect x="178.10" y="272.23" width="0.75" height="8.7" fill="#e6dfbc"/>
<rect x="178.80" y="272.23" width="2.45" height="8.7" fill="#205040"/>
<rect x="181.20" y="272.23" width="2.65" height="8.7" fill="#f0ecd8"/>
<rect x="183.80" y="272.23" width="2.75" height="8.7" fill="#e0c0c0"/>
<rect x="186.50" y="272.23" width="3.75" height="8.7" fill="#305040"/>
<rect x="190.20" y="272.23" width="2.05" height="8.7" fill="#402010"/>
<rect x="192.20" y="272.23" width="1.55" height="8.7" fill="#e6dfbc"/>
<rect x="193.70" y="272.23" width="2.35" height="8.7" fill="#e0d090"/>
<rect x="196.00" y="272.23" width="1.95" height="8.7" fill="#508080"/>
<rect x="197.90" y="272.23" width="2.35" height="8.7" fill="#906080"/>
<rect x="200.20" y="272.23" width="2.35" height="8.7" fill="#e6dfbc"/>
<rect x="202.50" y="272.23" width="3.55" height="8.7" fill="#b0c0d0"/>
<rect x="206.00" y="272.23" width="1.25" height="8.7" fill="#e6dfbc"/>
<rect x="207.20" y="272.23" width="2.35" height="8.7" fill="#604040"/>
<rect x="209.50" y="272.23" width="1.95" height="8.7" fill="#303030"/>
<rect x="211.40" y="272.23" width="1.55" height="8.7" fill="#e6dfbc"/>
<rect x="212.90" y="272.23" width="2.35" height="8.7" fill="#8090a0"/>
<rect x="215.20" y="272.23" width="2.35" height="8.7" fill="#b0c040"/>
<rect x="217.50" y="272.23" width="1.65" height="8.7" fill="#e6dfbc"/>
<rect x="219.10" y="272.23" width="2.75" height="8.7" fill="#203060"/>
<rect x="221.80" y="272.23" width="1.55" height="8.7" fill="#e6dfbc"/>
<rect x="223.30" y="272.23" width="2.95" height="8.7" fill="#a08020"/>
<rect x="226.20" y="272.23" width="1.75" height="8.7" fill="#e6dfbc"/>
<rect x="227.90" y="272.23" width="2.15" height="8.7" fill="#6090d0"/>
<rect x="230.00" y="272.23" width="2.65" height="8.7" fill="#806030"/>
<rect x="232.60" y="272.23" width="1.25" height="8.7" fill="#e6dfbc"/>
<rect x="233.80" y="272.23" width="2.25" height="8.7" fill="#805070"/>
<rect x="236.00" y="272.23" width="1.25" height="8.7" fill="#e6dfbc"/>
<rect x="237.20" y="272.23" width="2.65" height="8.7" fill="#404020"/>
<rect x="239.80" y="272.23" width="1.25" height="8.7" fill="#e6dfbc"/>
<rect x="241.00" y="272.23" width="1.35" height="8.7" fill="#608070"/>
<rect x="242.30" y="272.23" width="1.75" height="8.7" fill="#e6dfbc"/>
<rect x="244.00" y="272.23" width="2.55" height="8.7" fill="#708040"/>
<rect x="246.50" y="272.23" width="3.05" height="8.7" fill="#806080"/>
<rect x="249.50" y="272.23" width="1.35" height="8.7" fill="#e6dfbc"/>
<rect x="250.80" y="272.23" width="2.15" height="8.7" fill="#7080a0"/>
<rect x="252.90" y="272.23" width="2.15" height="8.7" fill="#805030"/>
<rect x="255.00" y="272.23" width="2.15" height="8.7" fill="#d0c060"/>
<rect x="257.10" y="272.23" width="2.55" height="8.7" fill="#90b0d0"/>
<rect x="259.60" y="272.23" width="1.75" height="8.7" fill="#c0a060"/>
<rect x="261.30" y="272.23" width="2.55" height="8.7" fill="#905020"/>
<text x="85.5" y="280.78" text-anchor="end" font-family="Liberation Sans" font-size="9.9" fill="#1a1a1a" stroke="#1a1a1a" stroke-width="0.2">2</text>
<text x="33.9" y="79.70" font-family="Liberation Sans" font-size="10" fill="#1a1a1a" stroke="#1a1a1a" stroke-width="0.3">P</text>
<path d="M43.90 72.60 L43.90 79.70 L42.85 79.70 L42.85 74.20 C42.25 74.15 41.25 74.30 40.85 74.35 L40.85 73.45 C41.85 73.35 42.55 73.10 42.90 72.60 Z" fill="#1a1a1a"/>
<text x="39.6" y="128.80" text-anchor="middle" font-family="Liberation Sans" font-size="10" fill="#1a1a1a" stroke="#1a1a1a" stroke-width="0.3">P2</text>
<text x="39.6" y="176.40" text-anchor="middle" font-family="Liberation Sans" font-size="10" fill="#1a1a1a" stroke="#1a1a1a" stroke-width="0.3">P3</text>
<text x="39.6" y="220.70" text-anchor="middle" font-family="Liberation Sans" font-size="10" fill="#1a1a1a" stroke="#1a1a1a" stroke-width="0.3">P4</text>
<text x="39.6" y="266.80" text-anchor="middle" font-family="Liberation Sans" font-size="10" fill="#1a1a1a" stroke="#1a1a1a" stroke-width="0.3">P5</text>
<rect x="87.7" y="25" width="1.3" height="263.6" fill="#111"/>
<rect x="87.7" y="287.2" width="334" height="1.3" fill="#111"/>
<rect x="88.10" y="287.5" width="1.1" height="3.5" fill="#111"/>
<text x="88.60" y="302.4" text-anchor="middle" font-family="Liberation Sans" font-size="8.4" fill="#2e2e2e">0</text>
<rect x="129.41" y="287.5" width="1.1" height="3.5" fill="#111"/>
<path d="M123.62 296.52 L123.62 302.40 L122.77 302.40 L122.77 297.82 C122.17 297.77 121.67 297.92 121.27 297.97 L121.27 297.07 C121.77 296.97 122.47 297.02 122.82 296.52 Z" fill="#2e2e2e"/>
<text x="125.24" y="302.4" font-family="Liberation Sans" font-size="8.4" fill="#2e2e2e">000</text>
<rect x="170.72" y="287.5" width="1.1" height="3.5" fill="#111"/>
<text x="171.22" y="302.4" text-anchor="middle" font-family="Liberation Sans" font-size="8.4" fill="#2e2e2e">2000</text>
<rect x="212.03" y="287.5" width="1.1" height="3.5" fill="#111"/>
<text x="212.53" y="302.4" text-anchor="middle" font-family="Liberation Sans" font-size="8.4" fill="#2e2e2e">3000</text>
<rect x="253.34" y="287.5" width="1.1" height="3.5" fill="#111"/>
<text x="253.84" y="302.4" text-anchor="middle" font-family="Liberation Sans" font-size="8.4" fill="#2e2e2e">4000</text>
<rect x="294.65" y="287.5" width="1.1" height="3.5" fill="#111"/>
<text x="295.15" y="302.4" text-anchor="middle" font-family="Liberation Sans" font-size="8.4" fill="#2e2e2e">5000</text>
<rect x="335.96" y="287.5" width="1.1" height="3.5" fill="#111"/>
<text x="336.46" y="302.4" text-anchor="middle" font-family="Liberation Sans" font-size="8.4" fill="#2e2e2e">6000</text>
<rect x="377.27" y="287.5" width="1.1" height="3.5" fill="#111"/>
<text x="377.77" y="302.4" text-anchor="middle" font-family="Liberation Sans" font-size="8.4" fill="#2e2e2e">7000</text>
<rect x="418.58" y="287.5" width="1.1" height="3.5" fill="#111"/>
<text x="419.08" y="302.4" text-anchor="middle" font-family="Liberation Sans" font-size="8.4" fill="#2e2e2e">8000</text>
<text x="255.5" y="317.2" text-anchor="middle" font-family="Liberation Sans" font-weight="700" font-size="10" fill="#151515" stroke="#151515" stroke-width="0.1" textLength="60" lengthAdjust="spacingAndGlyphs">Absolute clone size</text>
<text x="8.4" y="347" font-family="Liberation Sans" font-weight="700" font-size="11.5" stroke="#000" stroke-width="0.35">B</text>
<text x="31.7" y="371.1" text-anchor="middle" font-family="Liberation Sans" font-size="10.4" fill="#222" stroke="#222" stroke-width="0.2">ID</text>
<text transform="translate(67.9,367.9) rotate(-90)" text-anchor="middle" font-family="Liberation Sans" font-size="9.7" fill="#222" stroke="#222" stroke-width="0.2">Time</text>
<text transform="translate(79.9,367.5) rotate(-90)" text-anchor="middle" font-family="Liberation Sans" font-size="9.7" fill="#222" stroke="#222" stroke-width="0.2">point</text>
<text x="254.6" y="371.9" text-anchor="middle" font-family="Liberation Sans" font-size="10.2" fill="#222" stroke="#222" stroke-width="0.2">ACs with progression</text>
<rect x="50.2" y="382.6" width="38" height="21.40" fill="#e0eAd8"/>
<rect x="50.2" y="404.0" width="38" height="58.00" fill="#b4a0cc"/>
<rect x="50.2" y="462.0" width="38" height="37.60" fill="#e0eAd8"/>
<rect x="50.2" y="499.6" width="38" height="17.80" fill="#fbe80e"/>
<rect x="50.2" y="517.4" width="38" height="19.30" fill="#e0a2cc"/>
<rect x="50.2" y="536.7" width="38" height="23.00" fill="#e0eAd8"/>
<rect x="50.2" y="559.7" width="38" height="37.30" fill="#b4a0cc"/>
<rect x="50.2" y="597.0" width="38" height="18.90" fill="#fbe80e"/>
<rect x="50.2" y="615.9" width="38" height="23.70" fill="#e0eAd8"/>
<rect x="50.2" y="639.6" width="38" height="35.40" fill="#b4a0cc"/>
<rect x="50.2" y="675.0" width="38" height="17.30" fill="#e0a2cc"/>
<rect x="20.3" y="381.2" width="400.8" height="1.3" fill="#222"/>
<rect x="49.0" y="353.5" width="1.2" height="339.5" fill="#222"/>
<line x1="20.1" y1="462.0" x2="421.5" y2="462.0" stroke="#111" stroke-width="1.5" stroke-dasharray="2.6 2.148"/>
<line x1="20.1" y1="536.7" x2="421.5" y2="536.7" stroke="#111" stroke-width="1.5" stroke-dasharray="2.6 2.148"/>
<line x1="20.1" y1="615.9" x2="421.5" y2="615.9" stroke="#111" stroke-width="1.5" stroke-dasharray="2.6 2.148"/>
<rect x="89.20" y="387.90" width="74.65" height="8.0" fill="#5a97d3"/>
<rect x="163.80" y="387.90" width="42.15" height="8.0" fill="#ec802e"/>
<rect x="205.90" y="387.90" width="1.45" height="8.0" fill="#e0c090"/>
<rect x="207.30" y="387.90" width="1.45" height="8.0" fill="#203048"/>
<rect x="208.70" y="387.90" width="2.05" height="8.0" fill="#80a8d8"/>
<rect x="210.70" y="387.90" width="0.75" height="8.0" fill="#304060"/>
<rect x="211.40" y="387.90" width="1.45" height="8.0" fill="#e0e8f0"/>
<rect x="212.80" y="387.90" width="1.75" height="8.0" fill="#3878a0"/>
<rect x="214.50" y="387.90" width="1.15" height="8.0" fill="#205060"/>
<rect x="215.60" y="387.90" width="1.05" height="8.0" fill="#eeead8"/>
<rect x="216.60" y="387.90" width="1.75" height="8.0" fill="#707020"/>
<rect x="218.30" y="387.90" width="1.45" height="8.0" fill="#c0d8b0"/>
<rect x="219.70" y="387.90" width="1.15" height="8.0" fill="#f0e8c0"/>
<rect x="220.80" y="387.90" width="1.05" height="8.0" fill="#d0b080"/>
<rect x="221.80" y="387.90" width="1.75" height="8.0" fill="#403020"/>
<rect x="223.50" y="387.90" width="2.85" height="8.0" fill="#a09888"/>
<rect x="226.30" y="387.90" width="1.35" height="8.0" fill="#d0c8b0"/>
<rect x="227.60" y="387.90" width="2.05" height="8.0" fill="#505030"/>
<rect x="229.60" y="387.90" width="1.35" height="8.0" fill="#808070"/>
<path d="M82.80 389.10 L82.80 395.50 L81.80 395.50 L81.80 390.60 C81.20 390.55 80.40 390.70 80.00 390.75 L80.00 389.85 C80.80 389.75 81.50 389.60 81.85 389.10 Z" fill="#1a1a1a"/>
<rect x="89.20" y="407.35" width="62.35" height="8.0" fill="#5a97d3"/>
<rect x="151.50" y="407.35" width="41.15" height="8.0" fill="#ec802e"/>
<rect x="192.60" y="407.35" width="1.05" height="8.0" fill="#a0a090"/>
<rect x="193.60" y="407.35" width="1.85" height="8.0" fill="#d0e060"/>
<rect x="195.40" y="407.35" width="0.35" height="8.0" fill="#eeead8"/>
<rect x="195.70" y="407.35" width="1.95" height="8.0" fill="#303030"/>
<rect x="197.60" y="407.35" width="1.45" height="8.0" fill="#c0c0b0"/>
<rect x="199.00" y="407.35" width="2.25" height="8.0" fill="#808040"/>
<rect x="201.20" y="407.35" width="1.25" height="8.0" fill="#a090a0"/>
<rect x="202.40" y="407.35" width="0.75" height="8.0" fill="#eeead8"/>
<rect x="203.10" y="407.35" width="3.15" height="8.0" fill="#a07060"/>
<rect x="206.20" y="407.35" width="1.85" height="8.0" fill="#302030"/>
<rect x="208.00" y="407.35" width="1.05" height="8.0" fill="#eeead8"/>
<rect x="209.00" y="407.35" width="2.55" height="8.0" fill="#d0d090"/>
<rect x="211.50" y="407.35" width="2.05" height="8.0" fill="#303030"/>
<rect x="213.50" y="407.35" width="2.25" height="8.0" fill="#b0a8b8"/>
<rect x="215.70" y="407.35" width="0.85" height="8.0" fill="#808060"/>
<rect x="216.50" y="407.35" width="2.75" height="8.0" fill="#404020"/>
<text transform="translate(84.7,414.60) scale(0.88,1)" text-anchor="end" font-family="Liberation Sans" font-size="9.6" fill="#1a1a1a" stroke="#1a1a1a" stroke-width="0.3">2</text>
<rect x="89.20" y="426.80" width="63.55" height="8.0" fill="#5a97d3"/>
<rect x="152.70" y="426.80" width="38.55" height="8.0" fill="#ec802e"/>
<rect x="191.20" y="426.80" width="1.05" height="8.0" fill="#e0c080"/>
<rect x="192.20" y="426.80" width="3.25" height="8.0" fill="#4080a0"/>
<rect x="195.40" y="426.80" width="0.65" height="8.0" fill="#608080"/>
<rect x="196.00" y="426.80" width="2.55" height="8.0" fill="#b0b8b0"/>
<rect x="198.50" y="426.80" width="1.55" height="8.0" fill="#505048"/>
<rect x="200.00" y="426.80" width="2.05" height="8.0" fill="#a09080"/>
<rect x="202.00" y="426.80" width="1.35" height="8.0" fill="#403830"/>
<rect x="203.30" y="426.80" width="1.25" height="8.0" fill="#d0d0c0"/>
<rect x="204.50" y="426.80" width="1.75" height="8.0" fill="#404040"/>
<rect x="206.20" y="426.80" width="1.85" height="8.0" fill="#b0a890"/>
<rect x="208.00" y="426.80" width="2.05" height="8.0" fill="#909070"/>
<rect x="210.00" y="426.80" width="1.05" height="8.0" fill="#e0e0d0"/>
<rect x="211.00" y="426.80" width="2.25" height="8.0" fill="#405040"/>
<text transform="translate(84.7,434.05) scale(0.88,1)" text-anchor="end" font-family="Liberation Sans" font-size="9.6" fill="#1a1a1a" stroke="#1a1a1a" stroke-width="0.3">3</text>
<rect x="89.20" y="446.25" width="83.15" height="8.0" fill="#5a97d3"/>
<rect x="172.30" y="446.25" width="53.55" height="8.0" fill="#ec802e"/>
<rect x="225.80" y="446.25" width="2.85" height="8.0" fill="#a0a0a8"/>
<rect x="228.60" y="446.25" width="2.15" height="8.0" fill="#d8c060"/>
<rect x="230.70" y="446.25" width="2.25" height="8.0" fill="#f0e8c0"/>
<rect x="232.90" y="446.25" width="2.35" height="8.0" fill="#406040"/>
<rect x="235.20" y="446.25" width="0.45" height="8.0" fill="#eeead8"/>
<rect x="235.60" y="446.25" width="3.05" height="8.0" fill="#405020"/>
<rect x="238.60" y="446.25" width="2.15" height="8.0" fill="#509090"/>
<rect x="240.70" y="446.25" width="2.65" height="8.0" fill="#80a040"/>
<rect x="243.30" y="446.25" width="1.25" height="8.0" fill="#c0d8a0"/>
<rect x="244.50" y="446.25" width="1.55" height="8.0" fill="#eeead8"/>
<rect x="246.00" y="446.25" width="1.55" height="8.0" fill="#101010"/>
<rect x="247.50" y="446.25" width="0.75" height="8.0" fill="#eeead8"/>
<rect x="248.20" y="446.25" width="2.55" height="8.0" fill="#e0a060"/>
<rect x="250.70" y="446.25" width="1.55" height="8.0" fill="#70a0a0"/>
<rect x="252.20" y="446.25" width="3.45" height="8.0" fill="#408070"/>
<text transform="translate(84.7,453.50) scale(0.88,1)" text-anchor="end" font-family="Liberation Sans" font-size="9.6" fill="#1a1a1a" stroke="#1a1a1a" stroke-width="0.3">4</text>
<rect x="89.20" y="465.70" width="66.25" height="8.0" fill="#5a97d3"/>
<rect x="155.40" y="465.70" width="2.15" height="8.0" fill="#c8a8b8"/>
<rect x="157.50" y="465.70" width="1.25" height="8.0" fill="#502020"/>
<rect x="158.70" y="465.70" width="1.75" height="8.0" fill="#708070"/>
<rect x="160.40" y="465.70" width="1.15" height="8.0" fill="#203020"/>
<rect x="161.50" y="465.70" width="1.85" height="8.0" fill="#607060"/>
<path d="M82.80 466.90 L82.80 473.30 L81.80 473.30 L81.80 468.40 C81.20 468.35 80.40 468.50 80.00 468.55 L80.00 467.65 C80.80 467.55 81.50 467.40 81.85 466.90 Z" fill="#1a1a1a"/>
<rect x="89.20" y="485.15" width="83.75" height="8.0" fill="#5a97d3"/>
<rect x="172.90" y="485.15" width="2.75" height="8.0" fill="#b0b040"/>
<rect x="175.60" y="485.15" width="1.25" height="8.0" fill="#202010"/>
<rect x="176.80" y="485.15" width="3.05" height="8.0" fill="#909090"/>
<text transform="translate(84.7,492.40) scale(0.88,1)" text-anchor="end" font-family="Liberation Sans" font-size="9.6" fill="#1a1a1a" stroke="#1a1a1a" stroke-width="0.3">2</text>
<rect x="89.20" y="504.60" width="160.65" height="8.0" fill="#5a97d3"/>
<rect x="249.80" y="504.60" width="2.15" height="8.0" fill="#203050"/>
<text transform="translate(84.7,511.85) scale(0.88,1)" text-anchor="end" font-family="Liberation Sans" font-size="9.6" fill="#1a1a1a" stroke="#1a1a1a" stroke-width="0.3">3</text>
<rect x="89.20" y="524.05" width="182.95" height="8.0" fill="#5a97d3"/>
<rect x="272.10" y="524.05" width="2.35" height="8.0" fill="#a09060"/>
<rect x="274.40" y="524.05" width="1.85" height="8.0" fill="#302818"/>
<text transform="translate(84.7,531.30) scale(0.88,1)" text-anchor="end" font-family="Liberation Sans" font-size="9.6" fill="#1a1a1a" stroke="#1a1a1a" stroke-width="0.3">4</text>
<rect x="89.20" y="543.50" width="103.75" height="8.0" fill="#5a97d3"/>
<rect x="192.90" y="543.50" width="1.45" height="8.0" fill="#d0a070"/>
<rect x="194.30" y="543.50" width="2.15" height="8.0" fill="#8098a0"/>
<rect x="196.40" y="543.50" width="3.05" height="8.0" fill="#407040"/>
<rect x="199.40" y="543.50" width="0.85" height="8.0" fill="#eeead8"/>
<rect x="200.20" y="543.50" width="2.05" height="8.0" fill="#e08030"/>
<rect x="202.20" y="543.50" width="1.35" height="8.0" fill="#d0a060"/>
<rect x="203.50" y="543.50" width="1.55" height="8.0" fill="#c08030"/>
<rect x="205.00" y="543.50" width="0.75" height="8.0" fill="#eeead8"/>
<rect x="205.70" y="543.50" width="2.35" height="8.0" fill="#d0b050"/>
<rect x="208.00" y="543.50" width="1.35" height="8.0" fill="#304020"/>
<rect x="209.30" y="543.50" width="0.95" height="8.0" fill="#eeead8"/>
<rect x="210.20" y="543.50" width="2.25" height="8.0" fill="#d0d0a0"/>
<rect x="212.40" y="543.50" width="1.45" height="8.0" fill="#404030"/>
<rect x="213.80" y="543.50" width="1.65" height="8.0" fill="#eeead8"/>
<rect x="215.40" y="543.50" width="1.45" height="8.0" fill="#303020"/>
<rect x="216.80" y="543.50" width="0.75" height="8.0" fill="#909080"/>
<rect x="217.50" y="543.50" width="1.95" height="8.0" fill="#202020"/>
<path d="M82.80 544.70 L82.80 551.10 L81.80 551.10 L81.80 546.20 C81.20 546.15 80.40 546.30 80.00 546.35 L80.00 545.45 C80.80 545.35 81.50 545.20 81.85 544.70 Z" fill="#1a1a1a"/>
<rect x="89.20" y="562.95" width="99.65" height="8.0" fill="#5a97d3"/>
<rect x="188.80" y="562.95" width="1.45" height="8.0" fill="#7090a0"/>
<rect x="190.20" y="562.95" width="1.35" height="8.0" fill="#506060"/>
<rect x="191.50" y="562.95" width="1.55" height="8.0" fill="#a0c0e0"/>
<rect x="193.00" y="562.95" width="1.75" height="8.0" fill="#103050"/>
<rect x="194.70" y="562.95" width="1.55" height="8.0" fill="#e0e0d0"/>
<rect x="196.20" y="562.95" width="1.65" height="8.0" fill="#c08050"/>
<rect x="197.80" y="562.95" width="2.15" height="8.0" fill="#eeead8"/>
<rect x="199.90" y="562.95" width="3.25" height="8.0" fill="#308040"/>
<text transform="translate(84.7,570.20) scale(0.88,1)" text-anchor="end" font-family="Liberation Sans" font-size="9.6" fill="#1a1a1a" stroke="#1a1a1a" stroke-width="0.3">2</text>
<rect x="89.20" y="582.40" width="160.05" height="8.0" fill="#5a97d3"/>
<rect x="249.20" y="582.40" width="1.25" height="8.0" fill="#203040"/>
<rect x="250.40" y="582.40" width="1.15" height="8.0" fill="#eeead8"/>
<rect x="251.50" y="582.40" width="1.85" height="8.0" fill="#203838"/>
<rect x="253.30" y="582.40" width="1.15" height="8.0" fill="#b09060"/>
<rect x="254.40" y="582.40" width="2.95" height="8.0" fill="#807030"/>
<rect x="257.30" y="582.40" width="1.15" height="8.0" fill="#eeead8"/>
<rect x="258.40" y="582.40" width="1.15" height="8.0" fill="#304030"/>
<rect x="259.50" y="582.40" width="4.55" height="8.0" fill="#809070"/>
<text transform="translate(84.7,589.65) scale(0.88,1)" text-anchor="end" font-family="Liberation Sans" font-size="9.6" fill="#1a1a1a" stroke="#1a1a1a" stroke-width="0.3">3</text>
<rect x="89.20" y="601.85" width="127.75" height="8.0" fill="#5a97d3"/>
<rect x="216.90" y="601.85" width="1.65" height="8.0" fill="#c0b080"/>
<rect x="218.50" y="601.85" width="1.55" height="8.0" fill="#909080"/>
<rect x="220.00" y="601.85" width="1.55" height="8.0" fill="#303030"/>
<rect x="221.50" y="601.85" width="0.85" height="8.0" fill="#eeead8"/>
<rect x="222.30" y="601.85" width="2.55" height="8.0" fill="#a0b0a0"/>
<rect x="224.80" y="601.85" width="1.95" height="8.0" fill="#405040"/>
<rect x="226.70" y="601.85" width="1.85" height="8.0" fill="#90a080"/>
<text transform="translate(84.7,609.10) scale(0.88,1)" text-anchor="end" font-family="Liberation Sans" font-size="9.6" fill="#1a1a1a" stroke="#1a1a1a" stroke-width="0.3">4</text>
<rect x="89.20" y="621.30" width="96.85" height="8.0" fill="#5a97d3"/>
<rect x="186.00" y="621.30" width="3.95" height="8.0" fill="#e07050"/>
<rect x="189.90" y="621.30" width="0.85" height="8.0" fill="#d0b080"/>
<rect x="190.70" y="621.30" width="1.55" height="8.0" fill="#202010"/>
<rect x="192.20" y="621.30" width="2.25" height="8.0" fill="#e0e0c0"/>
<rect x="194.40" y="621.30" width="0.85" height="8.0" fill="#908070"/>
<rect x="195.20" y="621.30" width="1.15" height="8.0" fill="#303030"/>
<rect x="196.30" y="621.30" width="0.75" height="8.0" fill="#eeead8"/>
<rect x="197.00" y="621.30" width="2.45" height="8.0" fill="#a0a890"/>
<rect x="199.40" y="621.30" width="3.75" height="8.0" fill="#808070"/>
<path d="M82.80 622.50 L82.80 628.90 L81.80 628.90 L81.80 624.00 C81.20 623.95 80.40 624.10 80.00 624.15 L80.00 623.25 C80.80 623.15 81.50 623.00 81.85 622.50 Z" fill="#1a1a1a"/>
<rect x="89.20" y="640.75" width="102.95" height="8.0" fill="#5a97d3"/>
<rect x="192.10" y="640.75" width="3.85" height="8.0" fill="#e88030"/>
<rect x="195.90" y="640.75" width="0.45" height="8.0" fill="#eeead8"/>
<rect x="196.30" y="640.75" width="2.25" height="8.0" fill="#606020"/>
<rect x="198.50" y="640.75" width="0.95" height="8.0" fill="#c0a050"/>
<rect x="199.40" y="640.75" width="1.65" height="8.0" fill="#d0e090"/>
<rect x="201.00" y="640.75" width="1.55" height="8.0" fill="#506080"/>
<rect x="202.50" y="640.75" width="0.75" height="8.0" fill="#eeead8"/>
<rect x="203.20" y="640.75" width="3.75" height="8.0" fill="#c09050"/>
<text transform="translate(84.7,648.00) scale(0.88,1)" text-anchor="end" font-family="Liberation Sans" font-size="9.6" fill="#1a1a1a" stroke="#1a1a1a" stroke-width="0.3">2</text>
<rect x="89.20" y="660.20" width="120.85" height="8.0" fill="#5a97d3"/>
<rect x="210.00" y="660.20" width="3.65" height="8.0" fill="#e87030"/>
<rect x="213.60" y="660.20" width="1.85" height="8.0" fill="#f0a020"/>
<rect x="215.40" y="660.20" width="1.25" height="8.0" fill="#504010"/>
<rect x="216.60" y="660.20" width="1.75" height="8.0" fill="#d0e0a0"/>
<rect x="218.30" y="660.20" width="0.75" height="8.0" fill="#eeead8"/>
<rect x="219.00" y="660.20" width="1.65" height="8.0" fill="#b08060"/>
<rect x="220.60" y="660.20" width="0.55" height="8.0" fill="#302020"/>
<rect x="221.10" y="660.20" width="2.45" height="8.0" fill="#606090"/>
<text transform="translate(84.7,667.45) scale(0.88,1)" text-anchor="end" font-family="Liberation Sans" font-size="9.6" fill="#1a1a1a" stroke="#1a1a1a" stroke-width="0.3">3</text>
<text transform="translate(84.7,686.90) scale(0.88,1)" text-anchor="end" font-family="Liberation Sans" font-size="9.6" fill="#1a1a1a" stroke="#1a1a1a" stroke-width="0.3">4</text>
<rect x="89.6" y="671.2" width="31.2" height="20.6" fill="#c4c4c4" stroke="#999" stroke-width="0.9"/>
<text x="104.5" y="684.7" text-anchor="middle" font-family="Liberation Sans" font-size="8.6" fill="#1a1a1a" stroke="#1a1a1a" stroke-width="0.1">NA</text>
<text x="32.9" y="425.0" text-anchor="middle" font-family="Liberation Sans" font-size="10.2" fill="#1a1a1a" stroke="#1a1a1a" stroke-width="0.3">P6</text>
<text x="32.9" y="502.1" text-anchor="middle" font-family="Liberation Sans" font-size="10.2" fill="#1a1a1a" stroke="#1a1a1a" stroke-width="0.3">P7</text>
<text x="32.9" y="579.1" text-anchor="middle" font-family="Liberation Sans" font-size="10.2" fill="#1a1a1a" stroke="#1a1a1a" stroke-width="0.3">P8</text>
<text x="32.9" y="657.2" text-anchor="middle" font-family="Liberation Sans" font-size="10.2" fill="#1a1a1a" stroke="#1a1a1a" stroke-width="0.3">P9</text>
<rect x="87.9" y="353.5" width="1.3" height="342.5" fill="#111"/>
<rect x="20.3" y="692.0" width="401" height="1.3" fill="#111"/>
<rect x="88.10" y="692.3" width="1.1" height="3.5" fill="#111"/>
<text x="88.60" y="707.4" text-anchor="middle" font-family="Liberation Sans" font-size="8.3" fill="#2e2e2e">0</text>
<rect x="129.41" y="692.3" width="1.1" height="3.5" fill="#111"/>
<path d="M123.73 701.59 L123.73 707.40 L122.88 707.40 L122.88 702.89 C122.28 702.84 121.78 702.99 121.38 703.04 L121.38 702.14 C121.88 702.04 122.58 702.09 122.93 701.59 Z" fill="#2e2e2e"/>
<text x="125.30" y="707.4" font-family="Liberation Sans" font-size="8.3" fill="#2e2e2e">000</text>
<rect x="170.72" y="692.3" width="1.1" height="3.5" fill="#111"/>
<text x="171.22" y="707.4" text-anchor="middle" font-family="Liberation Sans" font-size="8.3" fill="#2e2e2e">2000</text>
<rect x="212.03" y="692.3" width="1.1" height="3.5" fill="#111"/>
<text x="212.53" y="707.4" text-anchor="middle" font-family="Liberation Sans" font-size="8.3" fill="#2e2e2e">3000</text>
<rect x="253.34" y="692.3" width="1.1" height="3.5" fill="#111"/>
<text x="253.84" y="707.4" text-anchor="middle" font-family="Liberation Sans" font-size="8.3" fill="#2e2e2e">4000</text>
<rect x="294.65" y="692.3" width="1.1" height="3.5" fill="#111"/>
<text x="295.15" y="707.4" text-anchor="middle" font-family="Liberation Sans" font-size="8.3" fill="#2e2e2e">5000</text>
<rect x="335.96" y="692.3" width="1.1" height="3.5" fill="#111"/>
<text x="336.46" y="707.4" text-anchor="middle" font-family="Liberation Sans" font-size="8.3" fill="#2e2e2e">6000</text>
<rect x="377.27" y="692.3" width="1.1" height="3.5" fill="#111"/>
<text x="377.77" y="707.4" text-anchor="middle" font-family="Liberation Sans" font-size="8.3" fill="#2e2e2e">7000</text>
<rect x="418.58" y="692.3" width="1.1" height="3.5" fill="#111"/>
<text x="419.08" y="707.4" text-anchor="middle" font-family="Liberation Sans" font-size="8.3" fill="#2e2e2e">8000</text>
<text x="254.5" y="721.8" text-anchor="middle" font-family="Liberation Sans" font-weight="700" font-size="10" fill="#151515" stroke="#151515" stroke-width="0.1" textLength="60.5" lengthAdjust="spacingAndGlyphs">Absolute clone size</text>
<rect x="449.1" y="394.1" width="22.6" height="22.6" fill="#e0eAd8" stroke="#111" stroke-width="1.35"/>
<text x="475" y="407.6" font-family="Liberation Sans" font-size="8.2" fill="#1a1a1a" stroke="#1a1a1a" stroke-width="0.1">AC</text>
<rect x="449.1" y="426.20000000000005" width="22.6" height="22.6" fill="#b4a0cc" stroke="#111" stroke-width="1.35"/>
<text x="475" y="439.7" font-family="Liberation Sans" font-size="8.2" fill="#1a1a1a" stroke="#1a1a1a" stroke-width="0.1">SM</text>
<rect x="449.1" y="457.90000000000003" width="22.6" height="22.6" fill="#fbe80e" stroke="#111" stroke-width="1.35"/>
<text x="475" y="471.4" font-family="Liberation Sans" font-size="8.2" fill="#1a1a1a" stroke="#1a1a1a" stroke-width="0.1">Chronic</text>
<rect x="449.1" y="490.0" width="22.6" height="22.6" fill="#e0a2cc" stroke="#111" stroke-width="1.35"/>
<text x="475" y="503.5" font-family="Liberation Sans" font-size="8.2" fill="#1a1a1a" stroke="#1a1a1a" stroke-width="0.1">Acute</text>
<rect x="449" y="521.3" width="30.3" height="21.8" fill="#c4c4c4" stroke="#8c8c8c" stroke-width="1"/>
<text x="464.1" y="535.5" text-anchor="middle" font-family="Liberation Sans" font-size="8.5" fill="#111" stroke="#111" stroke-width="0.2">NA</text>
<text x="482.6" y="530.1" font-family="Liberation Sans" font-size="8.4" fill="#111" stroke="#111" stroke-width="0.15">Not</text>
<text x="482.6" y="540.2" font-family="Liberation Sans" font-size="8.4" fill="#111" stroke="#111" stroke-width="0.15" textLength="29.6" lengthAdjust="spacingAndGlyphs">available</text>
<rect x="0" y="0" width="520" height="1.4" fill="#000"/>
<rect x="0" y="0" width="1.5" height="732" fill="#000"/>
<rect x="518.3" y="0" width="1.7" height="732" fill="#000"/>
<rect x="0" y="729.9" width="520" height="2.1" fill="#000"/>
</g>
</svg></body></html>
